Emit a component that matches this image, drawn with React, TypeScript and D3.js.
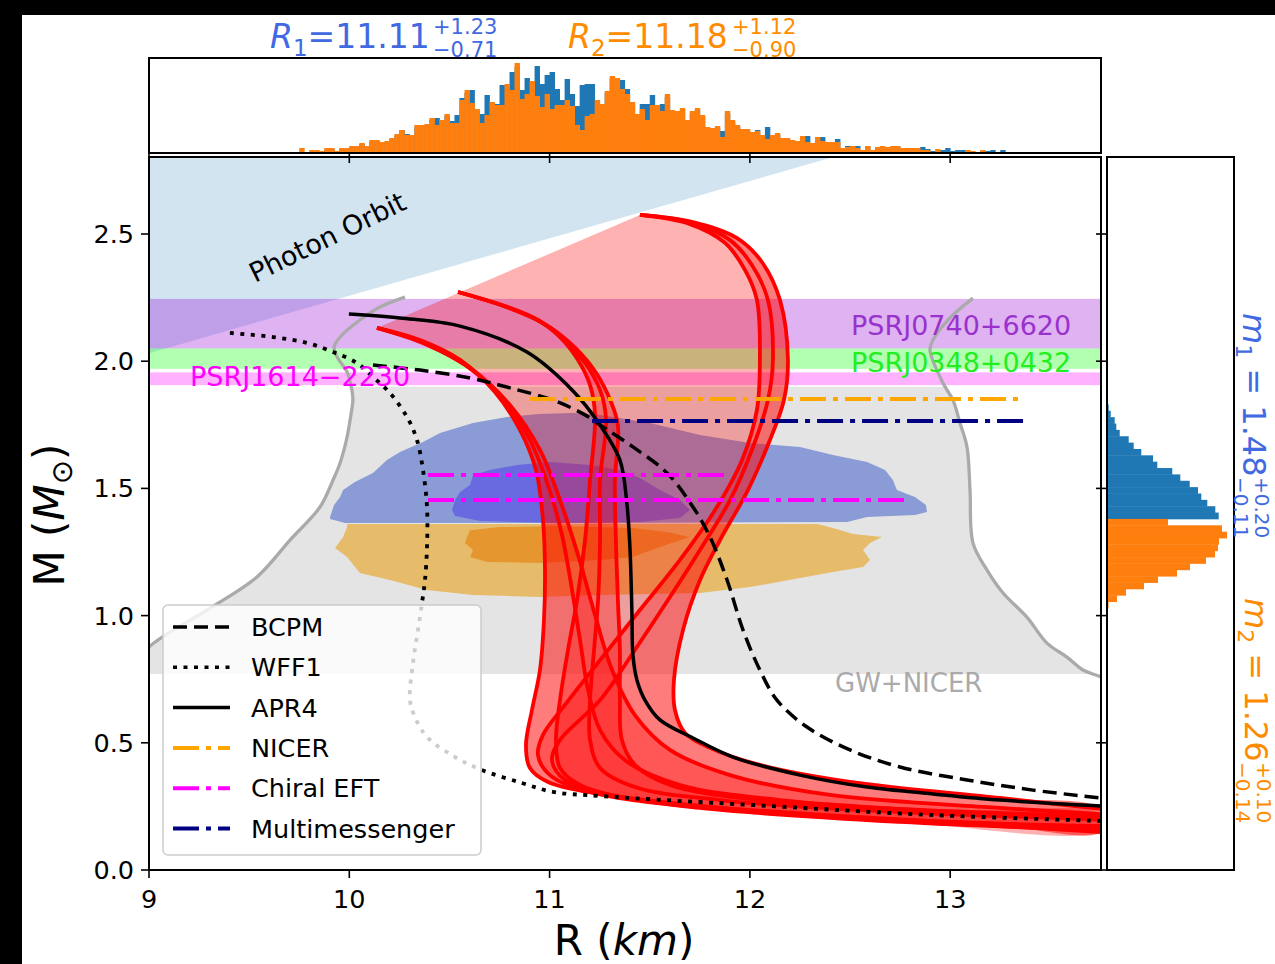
import React from 'react';
import * as d3 from 'd3';

type P = [number, number];

// ---------------- data ----------------
const R_DOMAIN: [number, number] = [9, 13.753];
const M_DOMAIN: [number, number] = [0, 2.8027];
const R_TICKS = [9, 10, 11, 12, 13];
const M_TICKS = [0, 0.5, 1.0, 1.5, 2.0, 2.5];

const PHOTON_ORBIT: P[] = [[8.9, 2.009], [12.6, 2.844]];

const PSR_NAMES = ['PSRJ0740+6620', 'PSRJ0348+0432', 'PSRJ1614\u22122230'];
const PSR_LO = [2.05, 1.97, 1.906];
const PSR_HI = [2.245, 2.05, 1.956];

const GW_RANGE = [0.77, 1.9];
const GW_LEFT: P[] = [[8.8, 0.7], [9.0, 0.877], [9.29, 1.022], [9.539, 1.152], [9.704, 1.297], [9.854, 1.427], [9.919, 1.533], [9.954, 1.6], [9.989, 1.702], [10.008, 1.789], [10.018, 1.847], [10.013, 1.887], [9.989, 1.958], [9.939, 2.017], [9.924, 2.056], [9.954, 2.095], [10.053, 2.162], [10.153, 2.213], [10.278, 2.252]];
const GW_RIGHT: P[] = [[13.9, 0.7], [13.753, 0.759], [13.663, 0.786], [13.583, 0.837], [13.483, 0.892], [13.383, 0.994], [13.264, 1.089], [13.184, 1.179], [13.114, 1.285], [13.099, 1.494], [13.084, 1.663], [13.049, 1.757], [13.014, 1.847], [12.964, 1.914], [12.899, 2.044], [12.914, 2.083], [12.999, 2.17], [13.114, 2.248]];

const BLUE_OUTER: P[] = [[9.904, 1.388], [9.924, 1.435], [9.954, 1.466], [9.969, 1.494], [10.028, 1.525], [10.118, 1.561], [10.188, 1.612], [10.253, 1.643], [10.368, 1.682], [10.453, 1.718], [10.618, 1.757], [10.787, 1.781], [10.952, 1.792], [11.117, 1.796], [11.252, 1.789], [11.501, 1.757], [11.751, 1.71], [12.0, 1.678], [12.25, 1.663], [12.415, 1.631], [12.585, 1.604], [12.675, 1.572], [12.714, 1.533], [12.734, 1.494], [12.824, 1.466], [12.879, 1.435], [12.884, 1.407], [12.824, 1.395], [12.585, 1.388], [12.485, 1.368], [11.252, 1.364], [9.979, 1.364], [9.904, 1.38]];
const BLUE_INNER: P[] = [[10.513, 1.415], [10.528, 1.454], [10.553, 1.486], [10.603, 1.513], [10.618, 1.553], [10.702, 1.572], [10.837, 1.592], [11.002, 1.604], [11.202, 1.592], [11.351, 1.572], [11.451, 1.541], [11.551, 1.494], [11.651, 1.454], [11.701, 1.415], [11.651, 1.384], [11.451, 1.368], [11.052, 1.364], [10.652, 1.372], [10.528, 1.392]];
const ORANGE_OUTER: P[] = [[9.989, 1.36], [12.335, 1.36], [12.415, 1.344], [12.515, 1.321], [12.66, 1.309], [12.6, 1.285], [12.565, 1.258], [12.6, 1.219], [12.565, 1.191], [12.415, 1.171], [12.25, 1.148], [12.0, 1.112], [11.751, 1.089], [11.252, 1.081], [10.952, 1.073], [10.618, 1.081], [10.388, 1.101], [10.203, 1.14], [10.053, 1.167], [9.989, 1.23], [9.929, 1.266], [9.969, 1.309], [9.989, 1.348]];
const ORANGE_INNER: P[] = [[10.752, 1.348], [10.603, 1.336], [10.588, 1.309], [10.578, 1.285], [10.618, 1.258], [10.603, 1.23], [10.687, 1.211], [10.952, 1.207], [11.252, 1.219], [11.416, 1.23], [11.551, 1.27], [11.701, 1.309], [11.586, 1.329], [11.416, 1.344], [11.052, 1.352]];

const RED_A_L: P[] = [[10.138, 2.131], [10.353, 2.083], [10.553, 2.005], [10.727, 1.879], [10.852, 1.73], [10.932, 1.572], [10.967, 1.376], [10.977, 1.179], [10.972, 0.983], [10.952, 0.786], [10.912, 0.629], [10.882, 0.491], [10.902, 0.401], [10.992, 0.346], [11.252, 0.299], [11.751, 0.252], [12.5, 0.204], [13.249, 0.173], [13.753, 0.149]];
const RED_A_M: P[] = [[10.138, 2.131], [10.363, 2.075], [10.578, 1.985], [10.762, 1.855], [10.902, 1.69], [10.992, 1.513], [11.062, 1.317], [11.112, 1.101], [11.152, 0.904], [11.192, 0.708], [11.252, 0.55], [11.376, 0.432], [11.651, 0.334], [12.15, 0.275], [12.999, 0.228], [13.753, 0.197]];
const RED_A_R: P[] = [[10.138, 2.131], [10.378, 2.068], [10.603, 1.973], [10.802, 1.828], [10.952, 1.651], [11.052, 1.454], [11.142, 1.238], [11.227, 1.002], [11.312, 0.786], [11.426, 0.609], [11.601, 0.472], [11.901, 0.373], [12.4, 0.295], [13.249, 0.244], [13.753, 0.22]];
const RED_B_L: P[] = [[10.543, 2.272], [10.777, 2.217], [10.942, 2.162], [11.052, 2.095], [11.142, 2.005], [11.202, 1.906], [11.227, 1.789], [11.202, 1.533], [11.177, 1.297], [11.137, 1.061], [11.092, 0.865], [11.052, 0.668], [11.032, 0.511], [11.052, 0.401], [11.152, 0.334], [11.451, 0.275], [12.15, 0.228], [12.999, 0.189], [13.753, 0.165]];
const RED_B_M: P[] = [[10.543, 2.272], [10.787, 2.213], [10.957, 2.154], [11.077, 2.083], [11.177, 1.993], [11.252, 1.887], [11.282, 1.769], [11.252, 1.533], [11.252, 1.297], [11.242, 1.061], [11.222, 0.865], [11.202, 0.668], [11.202, 0.511], [11.252, 0.401], [11.426, 0.326], [11.851, 0.275], [12.749, 0.228], [13.753, 0.2]];
const RED_B_R: P[] = [[10.543, 2.272], [10.797, 2.209], [10.977, 2.146], [11.102, 2.072], [11.212, 1.977], [11.292, 1.867], [11.341, 1.749], [11.326, 1.533], [11.331, 1.297], [11.341, 1.061], [11.351, 0.865], [11.351, 0.668], [11.361, 0.511], [11.426, 0.413], [11.601, 0.334], [12.05, 0.275], [12.849, 0.236], [13.753, 0.212]];
const RED_C_L: P[] = [[11.451, 2.575], [11.701, 2.539], [11.876, 2.465], [11.976, 2.358], [12.035, 2.241], [12.05, 2.005], [12.035, 1.808], [11.961, 1.612], [11.826, 1.415], [11.651, 1.219], [11.451, 1.022], [11.252, 0.825], [11.077, 0.649], [10.967, 0.531], [10.942, 0.452], [11.002, 0.373], [11.202, 0.307], [11.751, 0.244], [12.749, 0.189], [13.753, 0.157]];
const RED_C_M: P[] = [[11.451, 2.575], [11.716, 2.543], [11.901, 2.476], [12.01, 2.378], [12.09, 2.241], [12.115, 2.005], [12.09, 1.847], [12.01, 1.651], [11.901, 1.454], [11.751, 1.258], [11.591, 1.061], [11.426, 0.865], [11.252, 0.668], [11.052, 0.511], [11.012, 0.432], [11.077, 0.354], [11.351, 0.287], [12.05, 0.228], [12.999, 0.189], [13.753, 0.173]];
const RED_C_R: P[] = [[11.451, 2.575], [11.716, 2.547], [11.936, 2.484], [12.06, 2.39], [12.15, 2.241], [12.19, 2.005], [12.17, 1.847], [12.1, 1.69], [11.991, 1.494], [11.851, 1.297], [11.751, 1.14], [11.666, 0.943], [11.621, 0.747], [11.626, 0.629], [11.676, 0.539], [11.801, 0.48], [12.05, 0.413], [12.5, 0.346], [13.249, 0.283], [13.753, 0.24]];

const APR4: P[] = [[9.998, 2.186], [10.253, 2.17], [10.553, 2.138], [10.887, 2.036], [11.117, 1.883], [11.252, 1.749], [11.351, 1.612], [11.386, 1.439], [11.401, 1.27], [11.411, 1.014], [11.416, 0.845], [11.436, 0.747], [11.476, 0.668], [11.551, 0.59], [11.716, 0.519], [11.916, 0.444], [12.25, 0.373], [12.585, 0.326], [12.914, 0.299], [13.249, 0.275], [13.753, 0.252]];
const BCPM: P[] = [[10.118, 1.985], [10.353, 1.965], [10.603, 1.934], [10.802, 1.895], [11.017, 1.847], [11.177, 1.789], [11.252, 1.749], [11.416, 1.663], [11.586, 1.561], [11.716, 1.427], [11.801, 1.309], [11.886, 1.14], [11.966, 0.943], [12.05, 0.786], [12.135, 0.668], [12.285, 0.562], [12.5, 0.472], [12.749, 0.405], [13.084, 0.354], [13.413, 0.314], [13.753, 0.283]];
const WFF1: P[] = [[9.404, 2.111], [9.619, 2.095], [9.789, 2.072], [9.919, 2.036], [10.038, 1.993], [10.118, 1.938], [10.203, 1.875], [10.288, 1.781], [10.338, 1.69], [10.368, 1.572], [10.388, 1.427], [10.388, 1.27], [10.378, 1.14], [10.363, 1.05], [10.343, 0.943], [10.318, 0.814], [10.303, 0.668], [10.328, 0.601], [10.388, 0.523], [10.528, 0.444], [10.662, 0.393], [10.862, 0.342], [11.017, 0.307], [11.252, 0.291], [12.085, 0.252], [12.914, 0.216], [13.753, 0.193]];

const NICER_LINE: P[] = [[10.902, 1.851], [13.363, 1.851]];
const MULTI_LINE: P[] = [[11.212, 1.765], [13.398, 1.765]];
const CHIRAL_LINES: P[][] = [[[10.393, 1.553], [11.886, 1.553]], [[10.393, 1.454], [12.799, 1.454]]];

const LEGEND_LABELS = ['BCPM', 'WFF1', 'APR4', 'NICER', 'Chiral EFT', 'Multimessenger'];

// radius histograms (counts), bins of 0.025 km starting at 9.75 km
const R_HIST_START = 9.75;
const R_HIST_BIN = 0.025;
const R1_COUNTS = [
  0, 0, 0, 0, 0, 3, 4, 2, 4, 4,
  6, 6, 9, 6, 11, 12, 10, 11, 14, 17,
  23, 19, 17, 26, 27, 27, 33, 35, 31, 37,
  32, 38, 55, 60, 63, 42, 39, 58, 49, 49,
  68, 66, 81, 86, 63, 75, 70, 87, 69, 78,
  81, 64, 53, 74, 59, 47, 68, 69, 69, 51,
  47, 60, 74, 72, 73, 64, 49, 37, 49, 49,
  58, 46, 49, 56, 41, 40, 43, 31, 40, 43,
  36, 24, 23, 25, 22, 40, 31, 26, 22, 22,
  19, 23, 16, 26, 16, 18, 13, 13, 11, 10,
  15, 17, 9, 14, 16, 10, 10, 14, 4, 7,
  6, 7, 2, 6, 2, 5, 6, 5, 6, 6,
  4, 4, 4, 4, 6, 4, 2, 2, 3, 5,
  2, 3, 3, 2, 1, 0, 2, 2, 3, 0,
  3, 0];
const R2_COUNTS = [
  5, 1, 3, 3, 2, 5, 5, 2, 5, 5,
  7, 7, 10, 7, 13, 13, 11, 12, 15, 19,
  23, 18, 18, 28, 28, 29, 35, 28, 33, 39,
  30, 30, 53, 63, 50, 44, 30, 38, 51, 48,
  48, 69, 63, 90, 54, 59, 72, 57, 46, 59,
  44, 48, 48, 53, 47, 28, 23, 37, 39, 53,
  49, 62, 77, 75, 64, 59, 51, 39, 44, 33,
  48, 48, 42, 59, 43, 42, 45, 33, 42, 45,
  38, 26, 25, 27, 16, 42, 33, 28, 24, 24,
  21, 22, 18, 14, 18, 20, 15, 15, 13, 12,
  17, 11, 10, 16, 12, 11, 11, 11, 5, 6,
  7, 5, 3, 7, 3, 6, 7, 6, 7, 7,
  5, 5, 5, 5, 3, 3, 0, 4, 0, 0,
  0, 0, 0, 3, 2, 0, 3, 0, 1, 0,
  0, 0];
const R_HIST_MAX = 95;

// mass histograms, bins of 0.025 Msun
const M_HIST_BIN = 0.025;
const M1_START = 1.38;
const M1_COUNTS = [111.7, 108.3, 100.3, 94.3, 91, 82.7, 73.3, 65.3, 50.3, 46, 34.3, 26.7, 21.7, 12.7, 9.3, 7.7, 3.7, 1.7];
const M2_START = 1.03;
const M2_COUNTS = [1.5, 10, 19, 37, 51, 70, 83, 99, 108, 111, 112, 120, 115, 61];
const M_HIST_MAX = 127;

// ---------------- styles ----------------
const FONT = 'DejaVu Sans, Verdana, sans-serif';
const C_BLUE = '#1f77b4';
const C_ORANGE = '#ff7f0e';
const T_BLUE = '#4169e1';
const T_ORANGE = '#ff8c00';
const PSR_FILL = ['#9400d3', '#00ff00', '#ff00ff'];
const PSR_TEXT = ['#9932cc', '#22ee22', '#ff00ff'];
const DASHDOT = '26,7,5,7';

export default function App() {
  // layout (pixels)
  const L = 149, Rt = 1101, T = 157, B = 870;
  const HT = 58, HB = 153;
  const RL = 1107, RR = 1234;

  const x = d3.scaleLinear().domain(R_DOMAIN).range([L, Rt]);
  const y = d3.scaleLinear().domain(M_DOMAIN).range([B, T]);
  const hy = d3.scaleLinear().domain([0, R_HIST_MAX]).range([HB, HT]);
  const hx = d3.scaleLinear().domain([0, M_HIST_MAX]).range([RL, RR]);

  const smooth = d3.line<P>().x(d => x(d[0])).y(d => y(d[1])).curve(d3.curveCatmullRom.alpha(0.5));
  const straight = d3.line<P>().x(d => x(d[0])).y(d => y(d[1]));
  const band = (l: P[], r: P[]) => smooth([...l, ...r.slice().reverse()]) + 'Z';

  const photonPath = straight([PHOTON_ORBIT[0], PHOTON_ORBIT[1], [PHOTON_ORBIT[1][0], 3.2], [PHOTON_ORBIT[0][0], 3.2]]) + 'Z';
  const gwPath = band(GW_LEFT, GW_RIGHT);

  const redBands: [P[], P[]][] = [[RED_A_L, RED_A_R], [RED_B_L, RED_B_R], [RED_C_L, RED_C_R]];
  const redLines = [RED_A_L, RED_A_M, RED_A_R, RED_B_L, RED_B_M, RED_B_R, RED_C_L, RED_C_M, RED_C_R];

  const legendStyles = [
    { stroke: '#000', dash: '14,7', w: 3.5 },
    { stroke: '#000', dash: '4,6.5', w: 3.5 },
    { stroke: '#000', dash: '', w: 3.5 },
    { stroke: '#ffa500', dash: DASHDOT, w: 4 },
    { stroke: '#ff00ff', dash: DASHDOT, w: 4 },
    { stroke: '#000080', dash: DASHDOT, w: 4 },
  ];

  return (
    <svg width={1275} height={964} style={{ position: 'absolute', left: 0, top: 0 }} fontFamily={FONT}>
      <defs>
        <clipPath id="mainClip"><rect x={L} y={T} width={Rt - L} height={B - T} /></clipPath>
        <clipPath id="gwClip"><rect x={L} y={y(GW_RANGE[1])} width={Rt - L} height={y(GW_RANGE[0]) - y(GW_RANGE[1])} /></clipPath>
      </defs>
      <rect x={0} y={0} width={1275} height={964} fill="#fff" />
      <rect x={0} y={0} width={22} height={964} fill="#000" />
      <rect x={0} y={0} width={1275} height={15} fill="#000" />

      {/* ---------- top histogram ---------- */}
      <g>
        {R1_COUNTS.map((c, i) => {
          const r0 = R_HIST_START + i * R_HIST_BIN;
          return c > 0 ? <rect key={'b' + i} x={x(r0)} y={hy(c)} width={x(r0 + R_HIST_BIN) - x(r0) + 0.4} height={HB - hy(c)} fill={C_BLUE} /> : null;
        })}
        {R2_COUNTS.map((c, i) => {
          const r0 = R_HIST_START + i * R_HIST_BIN;
          return c > 0 ? <rect key={'o' + i} x={x(r0)} y={hy(c)} width={x(r0 + R_HIST_BIN) - x(r0) + 0.4} height={HB - hy(c)} fill={C_ORANGE} /> : null;
        })}
        <rect x={L} y={HT} width={Rt - L} height={HB - HT} fill="none" stroke="#000" strokeWidth={2} />
      </g>

      {/* ---------- right histogram ---------- */}
      <g>
        {M1_COUNTS.map((c, i) => {
          const m0 = M1_START + i * M_HIST_BIN;
          return <rect key={'m1' + i} x={RL} y={y(m0 + M_HIST_BIN)} width={hx(c) - RL} height={y(m0) - y(m0 + M_HIST_BIN) + 0.4} fill={C_BLUE} />;
        })}
        {M2_COUNTS.map((c, i) => {
          const m0 = M2_START + i * M_HIST_BIN;
          return <rect key={'m2' + i} x={RL} y={y(m0 + M_HIST_BIN)} width={hx(c) - RL} height={y(m0) - y(m0 + M_HIST_BIN) + 0.4} fill={C_ORANGE} />;
        })}
        <rect x={RL} y={T} width={RR - RL} height={B - T} fill="none" stroke="#000" strokeWidth={2} />
      </g>

      {/* ---------- main panel ---------- */}
      <g clipPath="url(#mainClip)">
        <path d={photonPath} fill={C_BLUE} fillOpacity={0.2} />
        {PSR_LO.map((lo, i) => (
          <rect key={'psr' + i} x={L} y={y(PSR_HI[i])} width={Rt - L} height={y(lo) - y(PSR_HI[i])} fill={PSR_FILL[i]} fillOpacity={0.3} />
        ))}
        <g clipPath="url(#gwClip)">
          <path d={gwPath} fill="#e4e4e4" />
        </g>
        <path d={smooth(GW_LEFT) || ''} fill="none" stroke="#aaaaaa" strokeWidth={3.3} />
        <path d={smooth(GW_RIGHT) || ''} fill="none" stroke="#aaaaaa" strokeWidth={3.3} />

        <path d={straight(BLUE_OUTER) + 'Z'} fill="#8a9bd6" />
        <path d={straight(BLUE_INNER) + 'Z'} fill="#6a6ae0" />
        <path d={straight(ORANGE_OUTER) + 'Z'} fill="#e6bb69" />
        <path d={straight(ORANGE_INNER) + 'Z'} fill="#e6962f" />

        <path d={band(RED_A_L, RED_C_R)} fill="#ff0000" fillOpacity={0.3} />
        {redBands.map((b, i) => (
          <path key={'rb' + i} d={band(b[0], b[1])} fill="#ff0000" fillOpacity={0.3} />
        ))}
        {redLines.map((c, i) => (
          <path key={'rl' + i} d={smooth(c) || ''} fill="none" stroke="#ff0000" strokeWidth={3.8} strokeLinejoin="round" />
        ))}

        <path d={smooth(WFF1) || ''} fill="none" stroke="#000" strokeWidth={3.8} strokeDasharray="4,6.5" />
        <path d={smooth(BCPM) || ''} fill="none" stroke="#000" strokeWidth={3.5} strokeDasharray="14,7" />
        <path d={smooth(APR4) || ''} fill="none" stroke="#000" strokeWidth={3.5} />

        <path d={straight(NICER_LINE) || ''} stroke="#ffa500" strokeWidth={4} strokeDasharray={DASHDOT} />
        <path d={straight(MULTI_LINE) || ''} stroke="#000080" strokeWidth={4} strokeDasharray={DASHDOT} />
        {CHIRAL_LINES.map((c, i) => (
          <path key={'ch' + i} d={straight(c) || ''} stroke="#ff00ff" strokeWidth={4} strokeDasharray={DASHDOT} />
        ))}

        <text transform="translate(255,283) rotate(-26)" fontSize={27} fill="#000">Photon Orbit</text>
        <text x={851} y={335} fontSize={27} fill={PSR_TEXT[0]}>{PSR_NAMES[0]}</text>
        <text x={851} y={372} fontSize={27} fill={PSR_TEXT[1]}>{PSR_NAMES[1]}</text>
        <text x={190} y={386} fontSize={27} fill={PSR_TEXT[2]}>{PSR_NAMES[2]}</text>
        <text x={835} y={692} fontSize={26} fill="#aaaaaa">GW+NICER</text>
      </g>
      <rect x={L} y={T} width={Rt - L} height={B - T} fill="none" stroke="#000" strokeWidth={2} />

      {/* ticks */}
      {R_TICKS.map(t => (
        <g key={'xt' + t}>
          <line x1={x(t)} x2={x(t)} y1={B} y2={B + 8} stroke="#000" strokeWidth={1.6} />
          <line x1={x(t)} x2={x(t)} y1={HB} y2={T + 6} stroke="#000" strokeWidth={1.6} />
          <text x={x(t)} y={908} fontSize={25.5} textAnchor="middle" fill="#000">{t}</text>
        </g>
      ))}
      {M_TICKS.map(t => (
        <g key={'yt' + t}>
          <line x1={L - 8} x2={L} y1={y(t)} y2={y(t)} stroke="#000" strokeWidth={1.6} />
          <line x1={Rt - 5} x2={RL} y1={y(t)} y2={y(t)} stroke="#000" strokeWidth={1.6} />
          <text x={134} y={y(t) + 9} fontSize={25.5} textAnchor="end" fill="#000">{t.toFixed(1)}</text>
        </g>
      ))}

      {/* axis labels */}
      <text x={624} y={955} fontSize={42} textAnchor="middle" fill="#000">
        R (<tspan fontStyle="italic">km</tspan>)
      </text>
      <text transform="translate(64,515) rotate(-90)" fontSize={42} textAnchor="middle" fill="#000">
        M (<tspan fontStyle="italic">M</tspan><tspan fontSize={29} dy={8}>{'\u2299'}</tspan><tspan dy={-8}>)</tspan>
      </text>

      {/* top titles */}
      <text x={270} y={48} fontSize={33} fill={T_BLUE}>
        <tspan fontStyle="italic">R</tspan><tspan fontSize={23} dy={8}>1</tspan><tspan dy={-8}>=11.11</tspan>
      </text>
      <text x={433} y={34} fontSize={21} fill={T_BLUE}>+1.23</text>
      <text x={433} y={57} fontSize={21} fill={T_BLUE}>{'\u22120.71'}</text>
      <text x={568} y={48} fontSize={33} fill={T_ORANGE}>
        <tspan fontStyle="italic">R</tspan><tspan fontSize={23} dy={8}>2</tspan><tspan dy={-8}>=11.18</tspan>
      </text>
      <text x={732} y={34} fontSize={21} fill={T_ORANGE}>+1.12</text>
      <text x={732} y={57} fontSize={21} fill={T_ORANGE}>{'\u22120.90'}</text>

      {/* right titles */}
      <g transform="translate(1243,313) rotate(90)">
        <text x={0} y={0} fontSize={32} fill={T_BLUE}>
          <tspan fontStyle="italic">m</tspan><tspan fontSize={22} dy={7}>1</tspan><tspan dy={-7}> = 1.48</tspan>
        </text>
        <text x={164} y={-12} fontSize={20} fill={T_BLUE}>+0.20</text>
        <text x={164} y={9} fontSize={20} fill={T_BLUE}>{'\u22120.11'}</text>
      </g>
      <g transform="translate(1245,598) rotate(90)">
        <text x={0} y={0} fontSize={32} fill={T_ORANGE}>
          <tspan fontStyle="italic">m</tspan><tspan fontSize={22} dy={7}>2</tspan><tspan dy={-7}> = 1.26</tspan>
        </text>
        <text x={164} y={-12} fontSize={20} fill={T_ORANGE}>+0.10</text>
        <text x={164} y={9} fontSize={20} fill={T_ORANGE}>{'\u22120.14'}</text>
      </g>

      {/* legend */}
      <g>
        <rect x={163} y={605} width={318} height={250} rx={5} fill="#fff" fillOpacity={0.8} stroke="#cccccc" strokeWidth={1.5} />
        {LEGEND_LABELS.map((lab, i) => {
          const ry = 627 + i * 40.3;
          const s = legendStyles[i];
          return (
            <g key={'lg' + i}>
              <line x1={173} x2={230} y1={ry} y2={ry} stroke={s.stroke} strokeWidth={s.w} strokeDasharray={s.dash || undefined} />
              <text x={251} y={ry + 9} fontSize={25.5} fill="#000">{lab}</text>
            </g>
          );
        })}
      </g>
    </svg>
  );
}
